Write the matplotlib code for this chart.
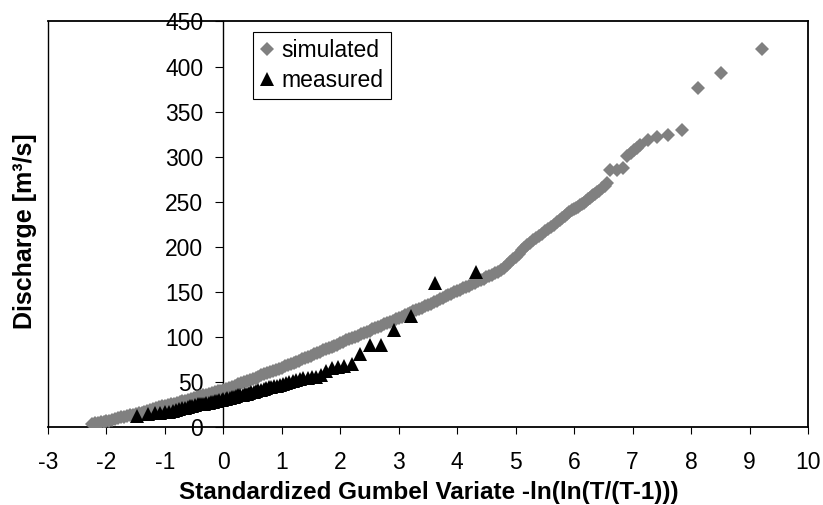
import matplotlib
matplotlib.use('Agg')
import matplotlib.pyplot as plt

plt.rcParams['font.family'] = ['Liberation Sans', 'DejaVu Sans']
plt.rcParams['axes.unicode_minus'] = False

# simulated series, dense band then the sparse tail
sim_x = [-2.25, -2.20, -2.15, -2.10, -2.05, -2.00, -1.95, -1.90, -1.85, -1.80,
         -1.75, -1.70, -1.65, -1.60, -1.55, -1.50, -1.45, -1.40, -1.35, -1.30,
         -1.25, -1.20, -1.15, -1.10, -1.05, -1.00, -0.95, -0.90, -0.85, -0.80,
         -0.75, -0.70, -0.65, -0.60, -0.55, -0.50, -0.45, -0.40, -0.35, -0.30,
         -0.25, -0.20, -0.15, -0.10, -0.05, 0.00, 0.05, 0.10, 0.15, 0.20,
         0.25, 0.30, 0.35, 0.40, 0.45, 0.50, 0.55, 0.60, 0.65, 0.70,
         0.75, 0.80, 0.85, 0.90, 0.95, 1.00, 1.05, 1.10, 1.15, 1.20,
         1.25, 1.30, 1.35, 1.40, 1.45, 1.50, 1.55, 1.60, 1.65, 1.70,
         1.75, 1.80, 1.85, 1.90, 1.95, 2.00, 2.05, 2.10, 2.15, 2.20,
         2.25, 2.30, 2.35, 2.40, 2.45, 2.50, 2.55, 2.60, 2.65, 2.70,
         2.75, 2.80, 2.85, 2.90, 2.95, 3.00, 3.05, 3.10, 3.15, 3.20,
         3.25, 3.30, 3.35, 3.40, 3.45, 3.50, 3.55, 3.60, 3.65, 3.70,
         3.75, 3.80, 3.85, 3.90, 3.95, 4.00, 4.05, 4.10, 4.15, 4.20,
         4.25, 4.30, 4.35, 4.40, 4.45, 4.50, 4.55, 4.60, 4.65, 4.70,
         4.75, 4.80, 4.85, 4.90, 4.95, 5.00, 5.05, 5.10, 5.15, 5.20,
         5.25, 5.30, 5.35, 5.40, 5.45, 5.50, 5.55, 5.60, 5.65, 5.70,
         5.75, 5.79, 5.84, 5.87, 5.92, 5.96, 6.00, 6.03, 6.07, 6.10,
         6.14, 6.17, 6.21, 6.24, 6.27, 6.30, 6.33, 6.36, 6.39, 6.42,
         6.47, 6.52, 6.56, 6.61, 6.73, 6.84, 6.91, 6.97, 7.03, 7.08,
         7.13, 7.27, 7.42, 7.61, 7.84, 8.12, 8.52, 9.22]
sim_y = [3.5, 4, 4.5, 5, 5.8, 6.5, 7.2, 8, 9, 10,
         10.8, 11.5, 12.2, 13, 13.8, 14.5, 15.2, 16, 17, 18,
         19, 20, 21, 22, 22.8, 23.5, 24.2, 25, 26, 27,
         27.8, 28.5, 29.2, 30, 31, 32, 33, 34, 35, 36,
         36.8, 37.5, 38.5, 39.5, 40.5, 41.5, 42.5, 43.5, 44.8, 46,
         47.2, 48.5, 49.8, 51, 52.2, 53.5, 54.8, 56, 57.2, 58.5,
         59.8, 61, 62.2, 63.5, 64.8, 66, 67.2, 68.5, 69.8, 71,
         72.2, 73.5, 75, 76.5, 77.8, 79, 80.5, 82, 83.5, 85,
         86.2, 87.5, 88.8, 90, 91.5, 93, 94.5, 96, 97.2, 98.5,
         100, 101.5, 102.8, 104, 105.5, 107, 108.5, 110, 111.2, 112.5,
         114, 115.5, 116.8, 118, 119.5, 121, 122.5, 124, 125.5, 127,
         128.5, 130, 131.2, 132.5, 134, 135.5, 137, 138.5, 140, 141.5,
         143.2, 145, 146.5, 148, 149.5, 151, 152.5, 154, 155.5, 157,
         158.5, 160, 161.5, 163, 164.5, 166, 167.5, 169, 170.8, 172.5,
         174.5, 177, 180, 183, 186, 189, 192.5, 196, 199, 202,
         204.5, 207, 209.5, 212, 214.5, 217, 219.5, 222, 224.5, 227,
         229.5, 232, 234, 236, 238.5, 240.5, 242, 243, 244.5, 246,
         247.5, 249, 251, 253, 254.5, 256, 257.5, 259, 260.5, 262,
         265, 268, 271, 285, 285, 287, 301, 304, 307, 310,
         313, 319, 322, 324.5, 330, 376.5, 393, 420]

# measured annual maxima
meas_x = [-1.47, -1.29, -1.17, -1.08, -1.00, -0.93, -0.87, -0.81, -0.76, -0.71,
          -0.66, -0.61, -0.57, -0.53, -0.48, -0.44, -0.40, -0.37, -0.33, -0.29,
          -0.25, -0.22, -0.18, -0.14, -0.11, -0.07, -0.03, 0.00, 0.04, 0.07,
          0.11, 0.15, 0.18, 0.22, 0.25, 0.29, 0.33, 0.37, 0.41, 0.44,
          0.48, 0.52, 0.56, 0.60, 0.65, 0.69, 0.73, 0.78, 0.82, 0.87,
          0.92, 0.97, 1.02, 1.07, 1.13, 1.19, 1.25, 1.31, 1.37, 1.44,
          1.52, 1.59, 1.67, 1.76, 1.86, 1.96, 2.07, 2.20, 2.34, 2.50,
          2.69, 2.92, 3.21, 3.62, 4.32]
meas_y = [12, 14, 15, 16, 17, 17, 18, 19, 20, 21,
          21, 22, 23, 23, 24, 25, 25, 26, 26, 27,
          27, 28, 28, 29, 29, 30, 30, 31, 31, 32,
          32, 33, 33, 34, 35, 35, 36, 37, 37, 38,
          39, 39, 40, 41, 41, 42, 43, 44, 44, 45,
          46, 47, 48, 49, 50, 51, 52, 53, 54, 54,
          55, 56, 58, 62, 65, 67, 68, 69.5, 81, 91,
          91, 108, 123, 160, 172]

x_ticks = list(range(-3, 11))
y_ticks = list(range(0, 451, 50))

fig = plt.figure(figsize=(8.23, 5.05), dpi=100)
ax = fig.add_axes([48 / 823, 78 / 505, 760 / 823, 405.5 / 505])

ax.plot(sim_x, sim_y, linestyle='none', marker='D', ms=7.2, color='#808080',
        mew=0, label='simulated', zorder=3)
ax.plot(meas_x, meas_y, linestyle='none', marker='^', ms=10, color='black',
        mew=0, label='measured', zorder=4)

ax.set_xlim(-3, 10)
ax.set_ylim(0, 450)
ax.set_xticks(x_ticks)
ax.set_yticks(y_ticks)

# y axis crosses at x = 0, plot area border stays at the left
ax.spines['left'].set_position(('data', 0))
ax.spines['left'].set_linewidth(1.0)
for s in ['top', 'right', 'bottom']:
    ax.spines[s].set_linewidth(1.3)
ax.axvline(-3, color='black', lw=1.0, clip_on=False, zorder=2.5)

ax.tick_params(axis='x', direction='out', length=5.3, width=0.8, pad=12, labelsize=16.5)
ax.tick_params(axis='y', direction='out', length=5.5, width=0.8, pad=9, labelsize=16.5)

ax.set_xlabel('Standardized Gumbel Variate -ln(ln(T/(T-1)))', fontsize=17.5, fontweight='bold')
ax.xaxis.set_label_coords(0.501, -0.133)
ax.set_ylabel('Discharge [m³/s]', fontsize=18, fontweight='bold')
ax.yaxis.set_label_coords(-0.015, 0.483)

leg = ax.legend(loc='upper left', bbox_to_anchor=(0.270, 0.974), borderaxespad=0,
                fontsize=16.5, fancybox=False, edgecolor='black', framealpha=1,
                handlelength=0.6, handletextpad=0.35, borderpad=0.3,
                labelspacing=0.3, numpoints=1)
leg.get_frame().set_linewidth(0.8)

fig.savefig('out.png', dpi=100)
